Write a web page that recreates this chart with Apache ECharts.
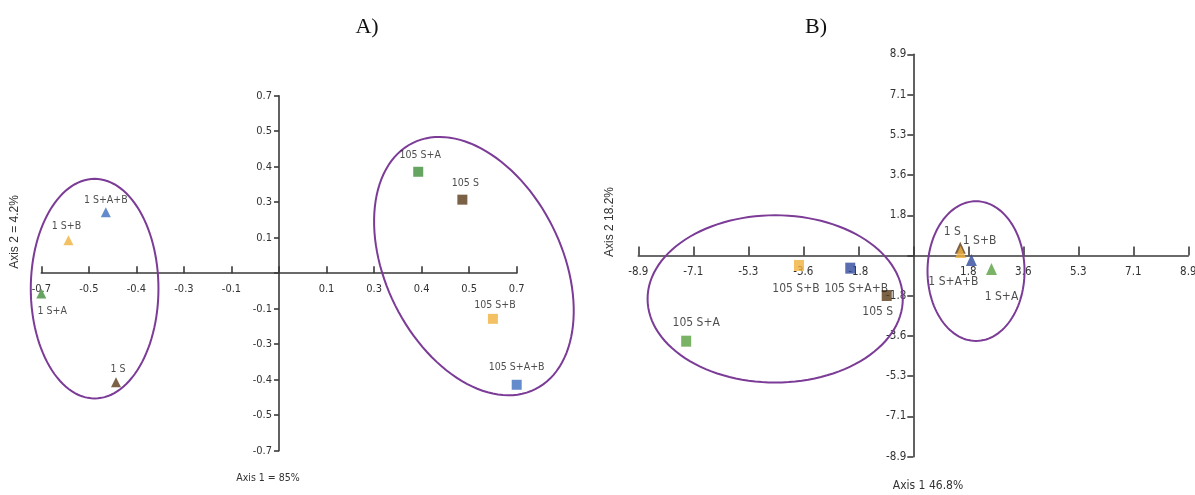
<!DOCTYPE html>
<html lang="en">
<head>
    <meta charset="UTF-8">
    <title>PCoA - A) B)</title>
    <style>
        html, body { margin: 0; padding: 0; background: #fff; }
        #main { width: 1195px; height: 495px; }
    </style>
    <script src="https://cdn.jsdelivr.net/npm/echarts@6/dist/echarts.min.js"></script>
</head>
<body>
<div id="main"></div>
<script type="text/javascript">

    // samples (same order in both panels)
    var samples = ['1 S', '1 S+A', '1 S+B', '1 S+A+B', '105 S', '105 S+A', '105 S+B', '105 S+A+B'];

    // panel A scores (Axis 1 = 85%, Axis 2 = 4.2%)
    var scoreAx = [-0.48, -0.70, -0.62, -0.51, 0.54, 0.41, 0.63, 0.70];
    var scoreAy = [-0.43, -0.08, 0.13, 0.24, 0.29, 0.40, -0.18, -0.44];

    // panel B scores (Axis 1 46.8%, Axis 2 18.2%)
    var scoreBx = [1.52, 2.53, 1.53, 1.88, -0.86, -7.35, -3.70, -2.04];
    var scoreBy = [0.34, -0.60, 0.15, -0.20, -1.77, -3.79, -0.44, -0.56];

    // tick labels as printed
    var ticksA = ['-0.7', '-0.5', '-0.4', '-0.3', '-0.1', '', '0.1', '0.3', '0.4', '0.5', '0.7'];
    var ticksB = ['-8.9', '-7.1', '-5.3', '-3.6', '-1.8', '', '1.8', '3.6', '5.3', '7.1', '8.9'];

    // group ellipses: [cx, cy, rx, ry, angle]
    var groupsA = [[-0.543, -0.061, 0.188, 0.433, 0], [0.574, 0.028, 0.405, 0.347, 63.5]];
    var groupsB = [[-4.47, -1.92, 4.13, 3.70, 0], [2.03, -0.69, 1.57, 3.09, 0]];

    var colorsA = ['#5a3a17', '#3f8f3a', '#f0b23c', '#3d6fbf', '#5a3a17', '#3f8f3a', '#f0b23c', '#3d6fbf'];
    var colorsB = ['#5a3a17', '#5aa040', '#f0b23c', '#2f4a9e', '#5a3a17', '#5aa040', '#f0b23c', '#2f4a9e'];

    // where each label sits relative to its marker (px)
    var offA = [[2, -13], [11, 18], [-2, -14], [0, -12], [3, -16], [2, -17], [2, -14], [0, -18]];
    var offB = [[-8, -16], [10, 28], [19, -11], [-18, 22], [-9, 16], [10, -18], [-3, 23], [6, 21]];

    var NARROW = "'Liberation Sans Narrow', 'Arial Narrow', 'DejaVu Sans Condensed', sans-serif";
    var AXIS_COLOR = '#3a3a3a';

    var gridA = { left: 41.3, top: 95.7, width: 475.4, height: 355 };
    var gridB = { left: 638.3, top: 54.3, width: 550, height: 402.4 };

    function tickFmt(labels, min, step) {
        return function (v) {
            var i = Math.round((v - min) / step);
            return labels[i] || '';
        };
    }

    function points(xs, ys, colors, offs, big) {
        return samples.map(function (s, i) {
            var tri = s.indexOf('105') !== 0;
            return {
                name: s,
                value: [xs[i], ys[i]],
                symbol: tri ? 'triangle' : 'rect',
                symbolSize: big ? (tri ? [11, 12] : [10, 11]) : [10, 10],
                itemStyle: { color: colors[i] },
                label: { offset: offs[i] }
            };
        });
    }

    function ellipseItem(params, api) {
        var c = api.coord([api.value(0), api.value(1)]);
        var a = api.size([api.value(2), 0])[0];
        var b = api.size([0, api.value(3)])[1];
        var t = api.value(4) * Math.PI / 180;
        var pts = [];
        for (var k = 0; k < 120; k++) {
            var u = k / 120 * 2 * Math.PI;
            var ex = a * Math.cos(u), ey = b * Math.sin(u);
            pts.push([c[0] + ex * Math.cos(t) - ey * Math.sin(t), c[1] + ex * Math.sin(t) + ey * Math.cos(t)]);
        }
        return {
            type: 'polygon',
            shape: { points: pts },
            style: { fill: 'none', stroke: '#7b3b96', lineWidth: 2 }
        };
    }

    // axes are pulled in to cross at the origin (offset is negative = inward)
    function valueAxis(gridIndex, min, step, labels, offset, tickInside, tickLen, fontSize, margin) {
        return {
            gridIndex: gridIndex,
            type: 'value',
            min: min,
            max: -min,
            interval: step,
            offset: offset,
            splitLine: { show: false },
            axisLine: { onZero: false, lineStyle: { color: AXIS_COLOR, width: 1.6 } },
            axisTick: { inside: tickInside, length: tickLen, lineStyle: { color: AXIS_COLOR, width: 1.6 } },
            axisLabel: {
                formatter: tickFmt(labels, min, step),
                showMinLabel: true,
                showMaxLabel: true,
                margin: margin,
                fontSize: fontSize,
                fontFamily: NARROW,
                color: '#333'
            }
        };
    }

    var myChart = echarts.init(document.getElementById('main'));

    var option = {
        animation: false,
        backgroundColor: '#fff',
        grid: [
            Object.assign({ outerBoundsMode: 'none' }, gridA),
            Object.assign({ outerBoundsMode: 'none' }, gridB)
        ],
        xAxis: [
            valueAxis(0, -0.7, 0.14, ticksA, -gridA.height / 2, true, 7, 11, 10),
            valueAxis(1, -8.9, 1.78, ticksB, -gridB.height / 2, true, 9, 11.5, 11)
        ],
        yAxis: [
            valueAxis(0, -0.7, 0.14, ticksA, -gridA.width / 2, false, 5, 11, 7),
            valueAxis(1, -8.9, 1.78, ticksB, -gridB.width / 2, false, 6, 11.5, 7)
        ],
        series: [
            {
                type: 'custom', xAxisIndex: 0, yAxisIndex: 0,
                renderItem: ellipseItem, data: groupsA, encode: { x: 0, y: 1 },
                silent: true, clip: false, z: 1
            },
            {
                type: 'custom', xAxisIndex: 1, yAxisIndex: 1,
                renderItem: ellipseItem, data: groupsB, encode: { x: 0, y: 1 },
                silent: true, clip: false, z: 1
            },
            {
                type: 'scatter', xAxisIndex: 0, yAxisIndex: 0, clip: false, z: 3,
                data: points(scoreAx, scoreAy, colorsA, offA, false),
                label: {
                    show: true, position: 'inside', formatter: '{b}',
                    fontSize: 10.5, fontFamily: NARROW, color: '#222'
                }
            },
            {
                type: 'scatter', xAxisIndex: 1, yAxisIndex: 1, clip: false, z: 3,
                data: points(scoreBx, scoreBy, colorsB, offB, true),
                label: {
                    show: true, position: 'inside', formatter: '{b}',
                    fontSize: 12, fontFamily: NARROW, color: '#222'
                }
            }
        ],
        graphic: [
            { type: 'text', x: 367, y: 27, style: { text: 'A)', font: '22px "Liberation Serif", serif', fill: '#111', align: 'center', verticalAlign: 'middle', textAlign: 'center', textVerticalAlign: 'middle' } },
            { type: 'text', x: 816, y: 27, style: { text: 'B)', font: '22px "Liberation Serif", serif', fill: '#111', align: 'center', verticalAlign: 'middle', textAlign: 'center', textVerticalAlign: 'middle' } },
            { type: 'text', x: 15, y: 232, rotation: Math.PI / 2, style: { text: 'Axis 2 = 4.2%', font: '12px "Liberation Sans", sans-serif', fill: '#333', align: 'center', verticalAlign: 'middle', textAlign: 'center', textVerticalAlign: 'middle' } },
            { type: 'text', x: 268, y: 478, style: { text: 'Axis 1 = 85%', font: '10.5px ' + NARROW, fill: '#333', align: 'center', verticalAlign: 'middle', textAlign: 'center', textVerticalAlign: 'middle' } },
            { type: 'text', x: 610, y: 222, rotation: Math.PI / 2, style: { text: 'Axis 2 18.2%', font: '12px "Liberation Sans", sans-serif', fill: '#333', align: 'center', verticalAlign: 'middle', textAlign: 'center', textVerticalAlign: 'middle' } },
            { type: 'text', x: 928, y: 486, style: { text: 'Axis 1 46.8%', font: '12px ' + NARROW, fill: '#333', align: 'center', verticalAlign: 'middle', textAlign: 'center', textVerticalAlign: 'middle' } }
        ]
    };

    myChart.setOption(option);

</script>
</body>
</html>
